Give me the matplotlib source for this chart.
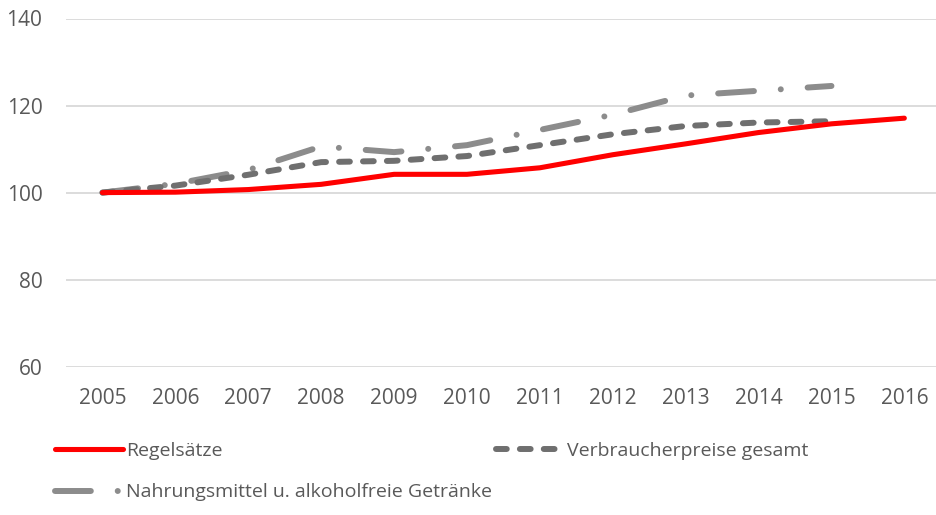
import matplotlib
matplotlib.use("Agg")
import matplotlib.pyplot as plt

years = [2005, 2006, 2007, 2008, 2009, 2010, 2011, 2012, 2013, 2014, 2015, 2016]
regelsaetze = [100.0, 100.1, 100.7, 101.9, 104.2, 104.2, 105.7, 108.7, 111.2, 113.8, 115.8, 117.1]
vpi_years = years[:-1]
verbraucherpreise = [100.0, 101.6, 104.1, 107.0, 107.3, 108.4, 110.9, 113.4, 115.3, 116.1, 116.4]
nahrung = [100.0, 102.0, 105.2, 110.6, 109.3, 110.9, 114.4, 117.9, 122.3, 123.4, 124.5]

y_ticks = [60, 80, 100, 120, 140]
label_regel = "Regelsätze"
label_vpi = "Verbraucherpreise gesamt"
label_food = "Nahrungsmittel u. alkoholfreie Getränke"

plt.rcParams["font.family"] = ["Open Sans", "DejaVu Sans"]

text_col = "#595959"
fig = plt.figure(figsize=(9.37, 5.15), dpi=100)
# plot area: grid from x=66 px, y=140 at 18.5 px, y=60 at 366.7 px
ax = fig.add_axes([66 / 937, 1 - 366.7 / 515, 1.0, (366.7 - 18.5) / 515])

lw = 4.3
ax.plot(years, regelsaetze, color="#ff0000", lw=lw * 0.85, solid_capstyle="round",
        solid_joinstyle="round", label=label_regel, zorder=3)
ax.plot(vpi_years[:len(nahrung)], nahrung, color="#8c8c8c", lw=lw,
        linestyle=(0, (6, 4.5, 0.01, 4.5)), dash_capstyle="round",
        label=label_food, zorder=2)
ax.plot(vpi_years, verbraucherpreise, color="#6f6f6f", lw=lw,
        linestyle=(0, (1.8, 2.2)), dash_capstyle="round",
        label=label_vpi, zorder=2)

ax.set_xlim(2004.5, 2004.5 + 937 / 72.9)
ax.set_ylim(60, 140)
ax.set_yticks(y_ticks)
ax.set_xticks(years)
ax.grid(axis="y", color="#d9d9d9", lw=1.3)
ax.set_axisbelow(True)
for s in ax.spines.values():
    s.set_visible(False)
ax.tick_params(length=0, labelsize=15, colors=text_col)
ax.tick_params(axis="y", pad=17)
ax.tick_params(axis="x", pad=15)

handles, labels = ax.get_legend_handles_labels()
leg = fig.legend(handles, labels, loc="upper left", bbox_to_anchor=(55 / 937, 1 - 442 / 515),
                 ncol=2, frameon=False, fontsize=14, handlelength=3.5, handletextpad=0.15,
                 columnspacing=0.2, labelspacing=1.2, borderpad=0, borderaxespad=0,
                 labelcolor=text_col)

fig.savefig("out.png", dpi=100)
